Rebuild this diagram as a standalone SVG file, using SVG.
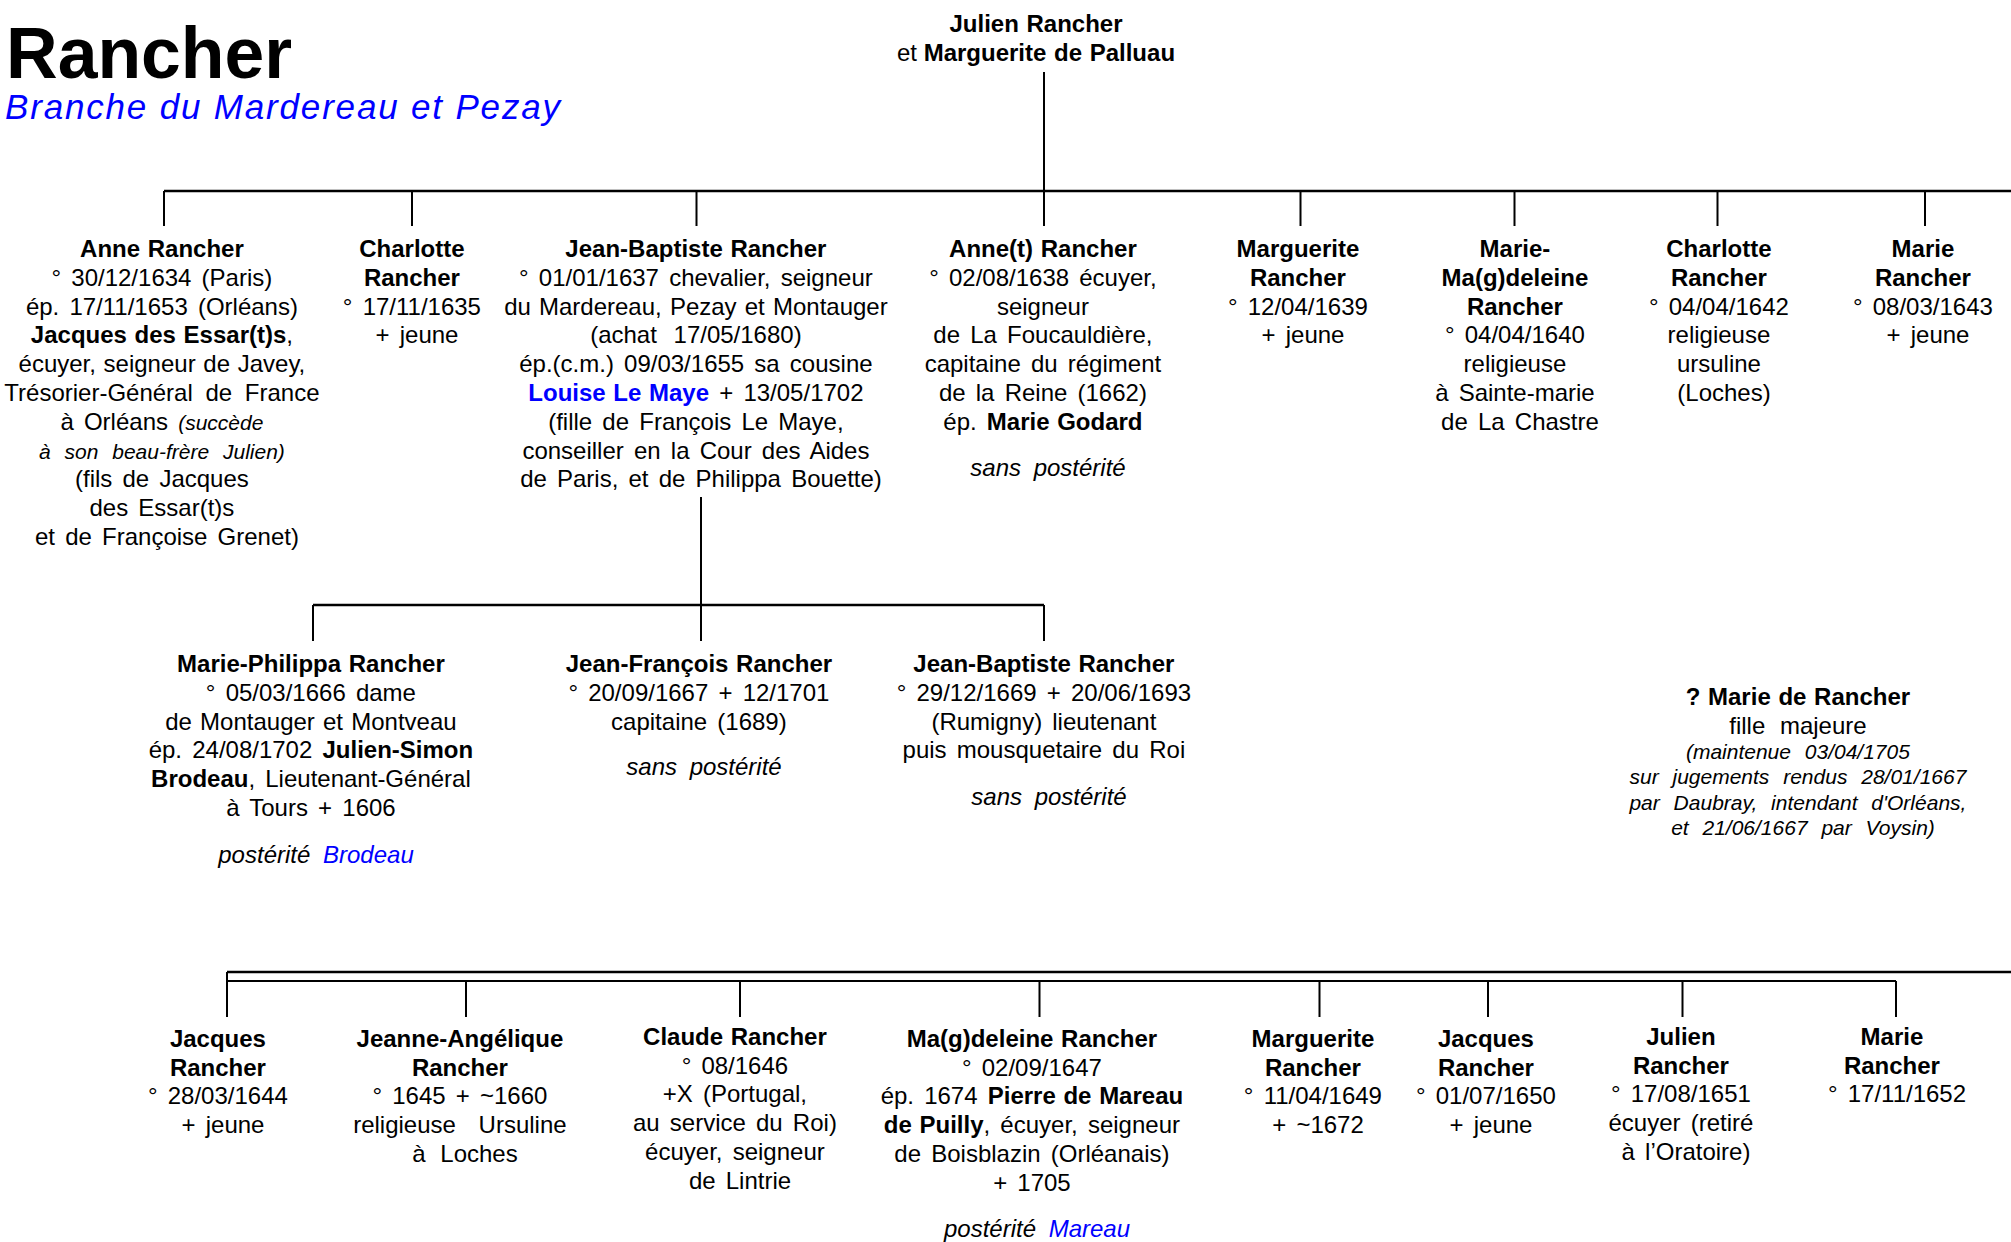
<svg xmlns="http://www.w3.org/2000/svg" width="2011" height="1242" viewBox="0 0 2011 1242">
<style>
text{font-family:"Liberation Sans",Arial,Helvetica,sans-serif;font-size:24px;fill:#000;text-anchor:middle;word-spacing:3.5px}
.b{font-weight:bold;word-spacing:1px}
.i{font-style:italic;word-spacing:6px}
.is{font-style:italic;font-size:21px;word-spacing:8px}
.blue{fill:#0000ff}
.h{stroke:#000;stroke-width:2.6;fill:none}
.v{stroke:#000;stroke-width:2;fill:none}
</style>
<rect width="2011" height="1242" fill="#fff"/>
<g id="title">
<text x="6" y="78" style="font-size:71.5px;font-weight:bold;text-anchor:start;word-spacing:0">Rancher</text>
<text x="5" y="119" class="i blue" style="font-size:35px;text-anchor:start;word-spacing:0" textLength="555" lengthAdjust="spacing">Branche du Mardereau et Pezay</text>
</g>
<g id="connectors">
<path class="v" d="M1044 72V191"/>
<path class="h" d="M164 191H2011"/>
<path class="v" d="M164 191V226M412 191V226M696.5 191V226M1044 191V226M1300.5 191V226M1514.5 191V226M1717.5 191V226M1925 191V226"/>
<path class="v" d="M701 497V641"/>
<path class="h" d="M313 605H1044"/>
<path class="v" d="M313 605V641M1044 605V641"/>
<path class="h" d="M227 972H2011"/>
<path class="v" d="M227 981H1896"/>
<path class="v" d="M227 972V1017M466 981V1017M740 981V1017M1039.5 981V1017M1319.5 981V1017M1488 981V1017M1682.5 981V1017M1896 981V1017"/>
</g>
<g id="parents">
<text style="word-spacing:0"><tspan x="1036" y="31.5" class="b">Julien Rancher</tspan><tspan x="1036" y="61">et <tspan class="b">Marguerite de Palluau</tspan></tspan></text>
</g>
<g id="anne">
<text>
<tspan x="167" y="257" class="b">Anne Rancher</tspan>
<tspan x="167" y="285.8">° 30/12/1634 (Paris)</tspan>
<tspan x="167" y="314.6">ép. 17/11/1653 (Orléans)</tspan>
<tspan x="167" y="343.4"><tspan class="b">Jacques des Essar(t)s</tspan>,</tspan>
<tspan x="167" y="372.2" style="word-spacing:1px">écuyer, seigneur de Javey,</tspan>
<tspan x="167" y="401" style="word-spacing:6px">Trésorier-Général de France</tspan>
<tspan x="167" y="429.8">à Orléans <tspan class="is">(succède</tspan></tspan>
<tspan x="167" y="458.6" class="is">à son beau-frère Julien)</tspan>
<tspan x="167" y="487.4">(fils de Jacques</tspan>
<tspan x="167" y="516.2">des Essar(t)s</tspan>
<tspan x="167" y="545">et de Françoise Grenet)</tspan>
</text>
</g>
<g id="charlotte1">
<text>
<tspan x="417" y="257" class="b">Charlotte</tspan>
<tspan x="417" y="285.8" class="b">Rancher</tspan>
<tspan x="417" y="314.6">° 17/11/1635</tspan>
<tspan x="417" y="343.4">+ jeune</tspan>
</text>
</g>
<g id="jean-baptiste">
<text>
<tspan x="701" y="257" class="b">Jean-Baptiste Rancher</tspan>
<tspan x="701" y="285.8">° 01/01/1637 chevalier, seigneur</tspan>
<tspan x="701" y="314.6" style="word-spacing:1.5px">du Mardereau, Pezay et Montauger</tspan>
<tspan x="701" y="343.4" style="word-spacing:10px">(achat 17/05/1680)</tspan>
<tspan x="701" y="372.2">ép.(c.m.) 09/03/1655 sa cousine</tspan>
<tspan x="701" y="401"><tspan class="b blue">Louise Le Maye</tspan> + 13/05/1702</tspan>
<tspan x="701" y="429.8">(fille de François Le Maye,</tspan>
<tspan x="701" y="458.6">conseiller en la Cour des Aides</tspan>
<tspan x="701" y="487.4">de Paris, et de Philippa Bouette)</tspan>
</text>
</g>
<g id="annet">
<text>
<tspan x="1048" y="257" class="b">Anne(t) Rancher</tspan>
<tspan x="1048" y="285.8">° 02/08/1638 écuyer,</tspan>
<tspan x="1048" y="314.6">seigneur</tspan>
<tspan x="1048" y="343.4">de La Foucauldière,</tspan>
<tspan x="1048" y="372.2">capitaine du régiment</tspan>
<tspan x="1048" y="401">de la Reine (1662)</tspan>
<tspan x="1048" y="429.8">ép. <tspan class="b">Marie Godard</tspan></tspan>
<tspan x="1048" y="476" class="i">sans postérité</tspan>
</text>
</g>
<g id="marguerite1">
<text>
<tspan x="1303" y="257" class="b">Marguerite</tspan>
<tspan x="1303" y="285.8" class="b">Rancher</tspan>
<tspan x="1303" y="314.6">° 12/04/1639</tspan>
<tspan x="1303" y="343.4">+ jeune</tspan>
</text>
</g>
<g id="marie-magdeleine">
<text>
<tspan x="1520" y="257" class="b">Marie-</tspan>
<tspan x="1520" y="285.8" class="b">Ma(g)deleine</tspan>
<tspan x="1520" y="314.6" class="b">Rancher</tspan>
<tspan x="1520" y="343.4">° 04/04/1640</tspan>
<tspan x="1520" y="372.2">religieuse</tspan>
<tspan x="1520" y="401">à Sainte-marie</tspan>
<tspan x="1520" y="429.8">de La Chastre</tspan>
</text>
</g>
<g id="charlotte2">
<text>
<tspan x="1724" y="257" class="b">Charlotte</tspan>
<tspan x="1724" y="285.8" class="b">Rancher</tspan>
<tspan x="1724" y="314.6">° 04/04/1642</tspan>
<tspan x="1724" y="343.4">religieuse</tspan>
<tspan x="1724" y="372.2">ursuline</tspan>
<tspan x="1724" y="401">(Loches)</tspan>
</text>
</g>
<g id="marie1">
<text>
<tspan x="1928" y="257" class="b">Marie</tspan>
<tspan x="1928" y="285.8" class="b">Rancher</tspan>
<tspan x="1928" y="314.6">° 08/03/1643</tspan>
<tspan x="1928" y="343.4">+ jeune</tspan>
</text>
</g>
<g id="marie-philippa">
<text>
<tspan x="316" y="672" class="b">Marie-Philippa Rancher</tspan>
<tspan x="316" y="700.8">° 05/03/1666 dame</tspan>
<tspan x="316" y="729.6" style="word-spacing:1.5px">de Montauger et Montveau</tspan>
<tspan x="316" y="758.4">ép. 24/08/1702 <tspan class="b">Julien-Simon</tspan></tspan>
<tspan x="316" y="787.2"><tspan class="b">Brodeau</tspan>, Lieutenant-Général</tspan>
<tspan x="316" y="816">à Tours + 1606</tspan>
<tspan x="316" y="863" class="i">postérité <tspan class="blue">Brodeau</tspan></tspan>
</text>
</g>
<g id="jean-francois">
<text>
<tspan x="704" y="672" class="b">Jean-François Rancher</tspan>
<tspan x="704" y="700.8">° 20/09/1667 + 12/1701</tspan>
<tspan x="704" y="729.6">capitaine (1689)</tspan>
<tspan x="704" y="775" class="i">sans postérité</tspan>
</text>
</g>
<g id="jean-baptiste2">
<text>
<tspan x="1049" y="672" class="b">Jean-Baptiste Rancher</tspan>
<tspan x="1049" y="700.8">° 29/12/1669 + 20/06/1693</tspan>
<tspan x="1049" y="729.6">(Rumigny) lieutenant</tspan>
<tspan x="1049" y="758.4">puis mousquetaire du Roi</tspan>
<tspan x="1049" y="805" class="i">sans postérité</tspan>
</text>
</g>
<g id="marie-de-rancher">
<text>
<tspan x="1803" y="705" class="b">? Marie de Rancher</tspan>
<tspan x="1803" y="733.5" style="word-spacing:8px">fille majeure</tspan>
<tspan x="1803" y="758.5" class="is">(maintenue 03/04/1705</tspan>
<tspan x="1803" y="784" class="is">sur jugements rendus 28/01/1667</tspan>
<tspan x="1803" y="809.5" class="is">par Daubray, intendant d'Orléans,</tspan>
<tspan x="1803" y="835" class="is">et 21/06/1667 par Voysin)</tspan>
</text>
</g>
<g id="jacques1">
<text>
<tspan x="223" y="1047" class="b">Jacques</tspan>
<tspan x="223" y="1075.7" class="b">Rancher</tspan>
<tspan x="223" y="1104.4">° 28/03/1644</tspan>
<tspan x="223" y="1133.1">+ jeune</tspan>
</text>
</g>
<g id="jeanne-angelique">
<text>
<tspan x="465" y="1047" class="b">Jeanne-Angélique</tspan>
<tspan x="465" y="1075.7" class="b">Rancher</tspan>
<tspan x="465" y="1104.4">° 1645 + ~1660</tspan>
<tspan x="465" y="1133.1" style="word-spacing:16px">religieuse Ursuline</tspan>
<tspan x="465" y="1161.8" style="word-spacing:8px">à Loches</tspan>
</text>
</g>
<g id="claude">
<text>
<tspan x="740" y="1045" class="b">Claude Rancher</tspan>
<tspan x="740" y="1073.7">° 08/1646</tspan>
<tspan x="740" y="1102.4">+X (Portugal,</tspan>
<tspan x="740" y="1131.1">au service du Roi)</tspan>
<tspan x="740" y="1159.8">écuyer, seigneur</tspan>
<tspan x="740" y="1188.5">de Lintrie</tspan>
</text>
</g>
<g id="magdeleine">
<text>
<tspan x="1037" y="1047" class="b">Ma(g)deleine Rancher</tspan>
<tspan x="1037" y="1075.7">° 02/09/1647</tspan>
<tspan x="1037" y="1104.4">ép. 1674 <tspan class="b">Pierre de Mareau</tspan></tspan>
<tspan x="1037" y="1133.1"><tspan class="b">de Puilly</tspan>, écuyer, seigneur</tspan>
<tspan x="1037" y="1161.8">de Boisblazin (Orléanais)</tspan>
<tspan x="1037" y="1190.5">+ 1705</tspan>
<tspan x="1037" y="1237" class="i">postérité <tspan class="blue">Mareau</tspan></tspan>
</text>
</g>
<g id="marguerite2">
<text>
<tspan x="1318" y="1047" class="b">Marguerite</tspan>
<tspan x="1318" y="1075.7" class="b">Rancher</tspan>
<tspan x="1318" y="1104.4">° 11/04/1649</tspan>
<tspan x="1318" y="1133.1">+ ~1672</tspan>
</text>
</g>
<g id="jacques2">
<text>
<tspan x="1491" y="1047" class="b">Jacques</tspan>
<tspan x="1491" y="1075.7" class="b">Rancher</tspan>
<tspan x="1491" y="1104.4">° 01/07/1650</tspan>
<tspan x="1491" y="1133.1">+ jeune</tspan>
</text>
</g>
<g id="julien">
<text>
<tspan x="1686" y="1045" class="b">Julien</tspan>
<tspan x="1686" y="1073.7" class="b">Rancher</tspan>
<tspan x="1686" y="1102.4">° 17/08/1651</tspan>
<tspan x="1686" y="1131.1">écuyer (retiré</tspan>
<tspan x="1686" y="1159.8">à l’Oratoire)</tspan>
</text>
</g>
<g id="marie2">
<text>
<tspan x="1897" y="1045" class="b">Marie</tspan>
<tspan x="1897" y="1073.7" class="b">Rancher</tspan>
<tspan x="1897" y="1102.4">° 17/11/1652</tspan>
</text>
</g>
</svg>
